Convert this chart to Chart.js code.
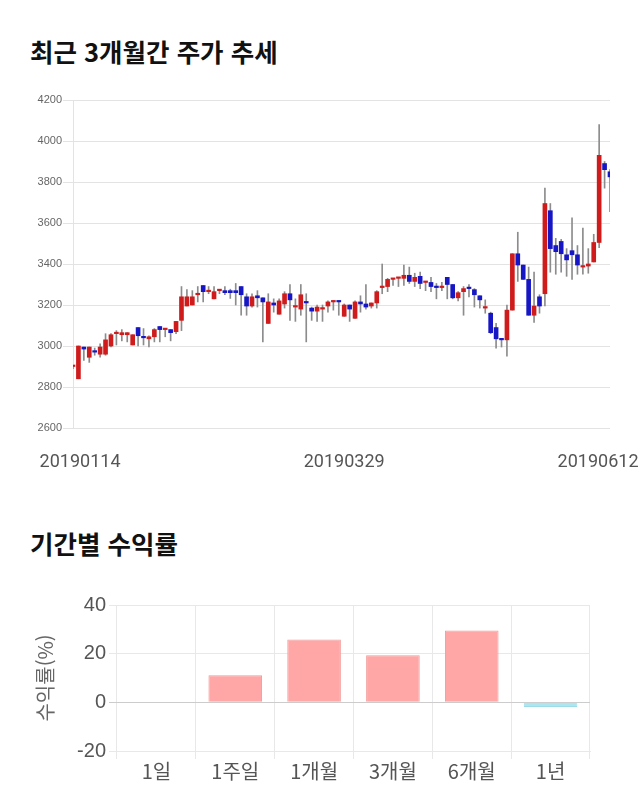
<!DOCTYPE html>
<html lang="ko">
<head>
<meta charset="utf-8">
<title>최근 3개월간 주가 추세</title>
<script src="https://cdn.jsdelivr.net/npm/chart.js@4.4.1/dist/chart.umd.min.js"></script>
<style>
  html, body { margin: 0; padding: 0; background: #fff; }
  #page { position: relative; width: 640px; height: 810px; overflow: hidden; }
  .title {
    position: absolute; left: 30px; height: 32px; line-height: 32px;
    font-family: "Noto Sans CJK KR", sans-serif; font-weight: 700; font-size: 25.5px;
    color: #111; white-space: nowrap;
  }
  #priceWrap { position: absolute; left: 0; top: 85px; }
  #returnWrap { position: absolute; left: 0; top: 590px; }
</style>
</head>
<body>
<div id="page">
  <div class="title" style="top:35px">최근 3개월간 주가 추세</div>
  <div id="priceWrap"><canvas id="priceChart" width="640" height="395"></canvas></div>
  <div class="title" style="top:527px">기간별 수익률</div>
  <div id="returnWrap"><canvas id="returnChart" width="640" height="210"></canvas></div>
</div>
<script>
// daily candles, 2019-01-14 .. 2019-06-12
const openPrice = [
  2900, 2840, 2995, 2945, 2975, 2960, 2960, 3000, 3060, 3055,
  3055, 3005, 3090, 3045, 3035, 3045, 3095, 3080, 3080, 3070,
  3125, 3195, 3200, 3250, 3295, 3265, 3230, 3270, 3270, 3270,
  3270, 3290, 3240, 3195, 3245, 3235, 3110, 3210, 3155, 3205,
  3255, 3190, 3180, 3215, 3185, 3170, 3180, 3195, 3215, 3220,
  3145, 3200, 3135, 3215, 3205, 3195, 3210, 3285, 3290, 3325,
  3330, 3330, 3345, 3315, 3340, 3310, 3310, 3290, 3285, 3335,
  3300, 3235, 3265, 3285, 3275, 3245, 3185, 3160, 3090, 3035,
  3030, 3175, 3450, 3395, 3325, 3150, 3240, 3255, 3660, 3490,
  3510, 3445, 3465, 3445, 3385, 3390, 3410, 3505, 3890, 3850
];
const highPrice = [
  2905, 3000, 2995, 2995, 2990, 3010, 3060, 3060, 3075, 3080,
  3065, 3055, 3090, 3085, 3050, 3085, 3095, 3080, 3080, 3120,
  3290, 3275, 3270, 3290, 3295, 3290, 3290, 3275, 3290, 3277,
  3305, 3290, 3255, 3255, 3270, 3235, 3255, 3230, 3230, 3265,
  3300, 3230, 3300, 3255, 3190, 3200, 3200, 3220, 3220, 3220,
  3205, 3200, 3220, 3245, 3300, 3210, 3270, 3400, 3330, 3330,
  3335, 3395, 3385, 3355, 3360, 3315, 3335, 3305, 3310, 3335,
  3300, 3265, 3290, 3300, 3280, 3245, 3225, 3165, 3110, 3035,
  3200, 3450, 3555, 3395, 3385, 3360, 3250, 3770, 3695, 3525,
  3520, 3475, 3625, 3490, 3575, 3475, 3545, 4080, 3900, 3860
];
const lowPrice = [
  2890, 2840, 2930, 2920, 2955, 2945, 2955, 2995, 3005, 3025,
  3020, 3005, 3000, 3005, 2995, 3020, 3020, 3045, 3025, 3060,
  3075, 3195, 3200, 3215, 3215, 3255, 3230, 3255, 3250, 3232,
  3200, 3150, 3150, 3190, 3190, 3020, 3110, 3165, 3155, 3185,
  3125, 3120, 3150, 3020, 3125, 3120, 3120, 3165, 3175, 3150,
  3145, 3120, 3135, 3165, 3180, 3185, 3185, 3255, 3265, 3295,
  3290, 3295, 3305, 3290, 3280, 3270, 3265, 3230, 3270, 3230,
  3230, 3220, 3150, 3240, 3190, 3185, 3160, 3060, 2990, 2995,
  2950, 3175, 3315, 3325, 3150, 3115, 3160, 3195, 3360, 3350,
  3360, 3340, 3325, 3350, 3350, 3355, 3410, 3480, 3770, 3655
];
const closePrice = [
  2900, 3000, 2985, 2995, 2970, 2995, 3030, 3055, 3060, 3065,
  3065, 3055, 3050, 3040, 3045, 3080, 3080, 3080, 3065, 3120,
  3240, 3240, 3240, 3255, 3265, 3270, 3265, 3270, 3260, 3260,
  3260, 3250, 3195, 3240, 3235, 3215, 3215, 3200, 3220, 3255,
  3225, 3190, 3250, 3210, 3170, 3190, 3185, 3215, 3215, 3215,
  3200, 3180, 3215, 3205, 3190, 3210, 3265, 3290, 3325, 3325,
  3330, 3345, 3315, 3335, 3305, 3310, 3290, 3285, 3290, 3300,
  3235, 3260, 3280, 3280, 3250, 3225, 3190, 3065, 3035, 3030,
  3175, 3450, 3395, 3325, 3150, 3195, 3195, 3695, 3475, 3460,
  3450, 3420, 3445, 3395, 3390, 3400, 3505, 3930, 3860, 3825
];
// x-axis date labels and the candle each one belongs to
const dateLabels = ["20190114", "20190329", "20190612"];
const dateLabelAt = [0, 50, 99];

// period returns (%)
const periods = ["1일", "1주일", "1개월", "3개월", "6개월", "1년"];
const returns = [0, 11.1, 25.8, 19.3, 29.5, -1.9];

const UP = "#cf1b1b";
const DOWN = "#1616c4";
const GRID = "#e3e3e3";

// edge labels are pulled inward a little so they stay on the canvas
const labelNudge = [1.3, 0, -2.2];

new Chart(document.getElementById("priceChart"), {
  type: "bar",
  data: {
    labels: openPrice.map((_, i) => i),
    datasets: [
      {
        label: "body",
        data: openPrice.map((o, i) => [o, closePrice[i]]),
        backgroundColor: openPrice.map((o, i) => (closePrice[i] >= o ? UP : DOWN)),
        barThickness: 4,
        minBarLength: 1.5,
        grouped: false,
        order: 0
      },
      {
        label: "wick",
        data: lowPrice.map((l, i) => [l, highPrice[i]]),
        backgroundColor: "#8c8c8c",
        barThickness: 1,
        grouped: false,
        order: 1
      }
    ]
  },
  options: {
    responsive: false,
    animation: false,
    layout: { padding: { top: 15, right: 30, left: 0, bottom: 0 } },
    plugins: { legend: { display: false }, tooltip: { enabled: false } },
    scales: {
      x: {
        offset: false,
        grid: { display: false },
        border: { display: false },
        afterBuildTicks: (axis) => {
          axis.ticks = dateLabelAt.map((v, i) => ({ value: v + labelNudge[i] }));
        },
        afterFit: (axis) => {
          axis.height = 52;
          axis.paddingLeft = 0;
          axis.paddingRight = 0;
        },
        ticks: {
          autoSkip: false,
          maxRotation: 0,
          padding: 16,
          color: "#555",
          font: { family: "Roboto, 'Liberation Sans', sans-serif", size: 18 },
          callback: (v, i) => dateLabels[i]
        }
      },
      y: {
        min: 2600,
        max: 4200,
        afterFit: (axis) => {
          axis.width = 73;
        },
        ticks: {
          stepSize: 200,
          padding: 1,
          color: "#666",
          font: { family: "'Liberation Sans', sans-serif", size: 11 },
          callback: (v) => String(v)
        },
        grid: { color: GRID, tickLength: 10 },
        border: { color: GRID }
      }
    }
  }
});

new Chart(document.getElementById("returnChart"), {
  type: "bar",
  data: {
    labels: periods,
    datasets: [
      {
        data: returns,
        backgroundColor: returns.map((v) => (v < 0 ? "#aee6f0" : "#ffa6a6")),
        borderColor: returns.map((v) => (v < 0 ? "#9edbe8" : v > 0 ? "#f29a9a" : "rgba(0,0,0,0)")),
        borderWidth: 1,
        barPercentage: 0.85,
        categoryPercentage: 0.8
      }
    ]
  },
  options: {
    responsive: false,
    animation: false,
    layout: { padding: { top: 15, right: 50, left: 0, bottom: 0 } },
    plugins: { legend: { display: false }, tooltip: { enabled: false } },
    scales: {
      x: {
        grid: { color: "#e8e8e8", tickLength: 8 },
        border: { color: "#e8e8e8" },
        afterFit: (axis) => {
          axis.height = 49;
        },
        ticks: {
          padding: 0,
          color: "#555",
          font: { family: "'Noto Sans CJK KR', sans-serif", size: 20 }
        }
      },
      y: {
        min: -20,
        max: 40,
        afterFit: (axis) => {
          axis.width = 117;
        },
        ticks: {
          stepSize: 20,
          padding: 3,
          color: "#555",
          font: { family: "'Liberation Sans', sans-serif", size: 20 }
        },
        grid: {
          color: (ctx) => (ctx.tick && ctx.tick.value === 0 ? "#cccccc" : "#e8e8e8"),
          tickLength: 8
        },
        border: { display: false },
        title: {
          display: true,
          text: "수익률(%)",
          color: "#666",
          font: { family: "'Noto Sans CJK KR', sans-serif", size: 20 },
          padding: { top: 33, bottom: 0 }
        }
      }
    }
  }
});
</script>
</body>
</html>
